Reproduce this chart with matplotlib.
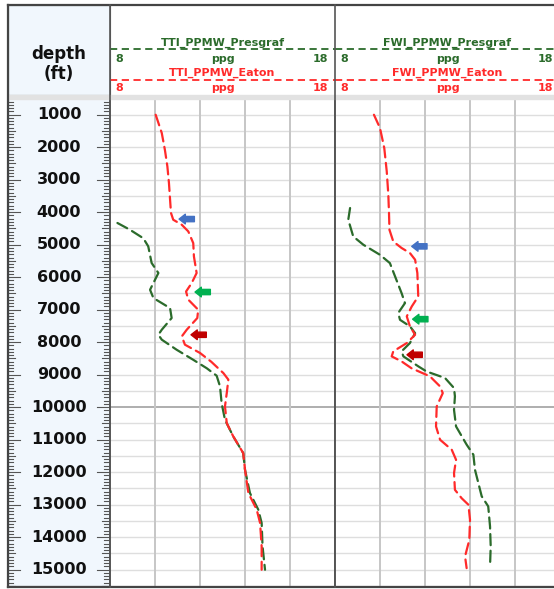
"""
plot.py

Pore pressure (PPMW) logs from TTI and FWI velocities, Eaton and Presgraf
"""

import numpy as np
import matplotlib.pyplot as plt

# TTI track, Eaton curve
tti_eaton_depth = [1000, 1560, 2080, 2590, 3100, 3615, 4020, 4230, 4385, 4590, 4950, 5360,
                   5870, 6180, 6440, 6690, 7000, 7255, 7615, 7820, 8075, 8330, 8600, 8950,
                   9150, 9560, 9975, 10490, 10900, 11410, 11920, 12640, 13150, 13560, 14280, 15000]
tti_eaton_ppg = [10.03, 10.30, 10.44, 10.55, 10.62, 10.67, 10.71, 10.81, 11.19, 11.48, 11.70, 11.73,
                 11.85, 11.63, 11.38, 11.48, 11.92, 11.88, 11.41, 11.19, 11.33, 12.0, 12.5, 13.04,
                 13.26, 13.19, 13.11, 13.19, 13.48, 13.92, 14.0, 14.15, 14.52, 14.67, 14.74, 14.74]

# TTI track, Presgraf curve
tti_pres_depth = [4330, 4540, 4800, 5050, 5560, 5870, 6385, 6640, 6950, 7255, 7615, 7770, 7920,
                  8230, 8540, 8800, 9030, 9360, 9870, 10385, 10900, 11410, 11920, 12640, 13150,
                  13560, 14280, 15000]
tti_pres_ppg = [8.33, 8.89, 9.48, 9.70, 9.85, 10.15, 9.78, 9.93, 10.67, 10.74, 10.30, 10.15, 10.30,
                10.96, 11.70, 12.30, 12.74, 12.89, 12.96, 13.11, 13.48, 13.92, 14.0, 14.22, 14.59,
                14.74, 14.78, 14.89]

# FWI track, Eaton curve
fwi_eaton_depth = [1000, 1410, 2025, 2745, 3460, 4025, 4540, 4900, 5100, 5255, 5460, 5870, 6590,
                   6900, 7205, 7510, 7770, 8025, 8280, 8435, 8590, 8800, 9050, 9360, 9565, 9975,
                   10590, 11000, 11310, 11615, 12025, 12540, 12800, 13000, 13460, 14080, 14590, 14950]
fwi_eaton_ppg = [9.73, 10.0, 10.19, 10.30, 10.37, 10.40, 10.42, 10.59, 10.96, 11.33, 11.56, 11.66, 11.70,
                 11.41, 11.19, 11.33, 11.56, 11.19, 10.59, 10.52, 10.96, 11.40, 12.22, 12.67, 12.79, 12.52,
                 12.49, 12.67, 13.19, 13.38, 13.29, 13.33, 13.63, 13.93, 14.0, 13.97, 13.78, 13.85]

# FWI track, Presgraf curve
fwi_pres_depth = [3870, 4230, 4745, 5000, 5310, 5565, 5975, 6490, 6795, 7100, 7310, 7510, 7720,
                  8025, 8280, 8435, 8740, 8900, 9100, 9410, 9665, 10080, 10590, 11150, 11460,
                  11920, 12740, 13050, 13660, 14280, 14900]
fwi_pres_ppg = [8.67, 8.59, 8.81, 9.26, 10.0, 10.44, 10.67, 10.96, 11.11, 10.81, 10.89, 11.33, 11.56,
                11.33, 10.96, 11.04, 11.70, 12.07, 12.89, 13.29, 13.33, 13.29, 13.38, 13.85, 14.15,
                14.22, 14.52, 14.81, 14.89, 14.92, 14.89]

# marker arrows: tip (ppg, depth), one list per track
arrow_colours = ['#4472c4', '#00b050', '#c00000']
tti_arrow_ppg = [11.07, 11.78, 11.60]
tti_arrow_depth = [4210, 6455, 7770]
fwi_arrow_ppg = [11.41, 11.45, 11.20]
fwi_arrow_depth = [5050, 7290, 8385]

depth_labels = list(range(1000, 15001, 1000))

GREEN = '#2b6b2b'
RED = '#ff2a2a'
W, H = 554, 589


def px_rect(x0, y0, x1, y1):
    # pixel box (top-left origin) to figure fraction
    return [x0 / W, 1 - y1 / H, (x1 - x0) / W, (y1 - y0) / H]


fig = plt.figure(figsize=(W / 100, H / 100), dpi=100)
fig.patch.set_facecolor('white')

# gray band between header and data
fig.patches.append(plt.Rectangle((8 / W, 1 - 98.5 / H), 1, 3.5 / H, transform=fig.transFigure,
                                 color='#e2e2e2', zorder=0))


def make_track(box, eaton, pres, arrows):
    ax = fig.add_axes(px_rect(*box))
    ax.set_xlim(8, 18)
    ax.set_ylim(15500, 500)
    for d in np.arange(500, 15501, 500):
        if d == 10000:
            ax.axhline(d, color='#a8a8a8', lw=1.3, zorder=1)
        else:
            ax.axhline(d, color='#dedede', lw=1.0, zorder=1)
    for v in [10, 12, 14, 16]:
        ax.axvline(v, color='#c6c6c6', lw=1.4, zorder=1)
    ax.plot(pres[1], pres[0], color=GREEN, lw=1.6, ls=(0, (5, 2.5)), zorder=3,
            dash_joinstyle='round', dash_capstyle='round')
    ax.plot(eaton[1], eaton[0], color=RED, lw=1.6, ls=(0, (5, 2.5)), zorder=3,
            dash_joinstyle='round', dash_capstyle='round')
    for x, d, c in zip(arrows[0], arrows[1], arrow_colours):
        ax.annotate('', xy=(x, d), xytext=(x + 0.68, d),
                    arrowprops=dict(arrowstyle='simple,head_length=0.45,head_width=0.7,tail_width=0.38',
                                    color=c, shrinkA=0, shrinkB=0), zorder=4)
    ax.set_xticks([])
    ax.set_yticks([])
    for s in ['top', 'bottom']:
        ax.spines[s].set_visible(False)
    for s in ['left', 'right']:
        ax.spines[s].set_color('#555555')
        ax.spines[s].set_linewidth(1.2)
    return ax


def make_header(box, name):
    ax = fig.add_axes(px_rect(*box))
    ax.set_xlim(0, 1)
    ax.set_ylim(box[3], box[1])
    ax.axis('off')
    width = box[2] - box[0]
    rows = [(name + '_PPMW_Presgraf', GREEN, 43, 49, 58.5),
            (name + '_PPMW_Eaton', RED, 73, 79.5, 88)]
    for label, c, ty, ly, sy in rows:
        ax.plot([0, 1], [ly, ly], color=c, lw=1.3, ls=(0, (4, 2.5)))
        ax.text(0.5, ty, label, color=c, ha='center', va='center', fontsize=8, fontweight='bold')
        ax.text(5 / width, sy, '8', color=c, ha='left', va='center', fontsize=8, fontweight='bold')
        ax.text(0.5, sy, 'ppg', color=c, ha='center', va='center', fontsize=8, fontweight='bold')
        ax.text(1 - 7 / width, sy, '18', color=c, ha='right', va='center', fontsize=8, fontweight='bold')
    return ax


# depth column
ax_d = fig.add_axes(px_rect(8, 98.5, 110, 586))
ax_d.set_facecolor('#f1f7fd')
ax_d.set_xlim(0, 102)
ax_d.set_ylim(15500, 500)
for d in np.arange(500, 15501, 100):
    if d % 1000 == 0:
        ln = 12
    elif d % 500 == 0:
        ln = 7
    else:
        ln = 5
    ax_d.plot([0, ln], [d, d], color='#555555', lw=0.8, zorder=5)
    ax_d.plot([101 - ln, 101], [d, d], color='#555555', lw=0.8, zorder=5)
for d in depth_labels:
    ax_d.text(51, d, str(d), ha='center', va='center', fontsize=11.5, fontweight='bold', color='#111111')
ax_d.set_xticks([])
ax_d.set_yticks([])
for s in ax_d.spines.values():
    s.set_color('#555555')
ax_d.spines['top'].set_visible(False)

# depth header
ax_dh = fig.add_axes(px_rect(8, 5, 110, 95))
ax_dh.set_facecolor('#f1f7fd')
ax_dh.set_xlim(0, 1)
ax_dh.set_ylim(95, 5)
ax_dh.set_xticks([])
ax_dh.set_yticks([])
ax_dh.text(0.5, 54, 'depth', ha='center', va='center', fontsize=12, fontweight='bold', color='#111111')
ax_dh.text(0.5, 74, '(ft)', ha='center', va='center', fontsize=12, fontweight='bold', color='#111111')
for s in ax_dh.spines.values():
    s.set_color('#555555')

make_track((110, 98.5, 335, 586), (tti_eaton_depth, tti_eaton_ppg), (tti_pres_depth, tti_pres_ppg),
           (tti_arrow_ppg, tti_arrow_depth))
make_track((335, 98.5, 560, 586), (fwi_eaton_depth, fwi_eaton_ppg), (fwi_pres_depth, fwi_pres_ppg),
           (fwi_arrow_ppg, fwi_arrow_depth))
make_header((110, 5, 335, 95), 'TTI')
make_header((335, 5, 560, 95), 'FWI')

# outer frame and separators
fig.add_artist(plt.Line2D([8 / W, 1], [1 - 5 / H, 1 - 5 / H], color='#444444', lw=1.6))
fig.add_artist(plt.Line2D([8 / W, 1], [1 - 587 / H, 1 - 587 / H], color='#444444', lw=1.6))
fig.add_artist(plt.Line2D([8 / W, 8 / W], [1 - 5 / H, 1 - 587 / H], color='#444444', lw=1.6))
for x in [110, 335]:
    fig.add_artist(plt.Line2D([x / W, x / W], [1 - 5 / H, 1 - 587 / H], color='#555555', lw=1.2))

fig.savefig('out.png', dpi=100)
